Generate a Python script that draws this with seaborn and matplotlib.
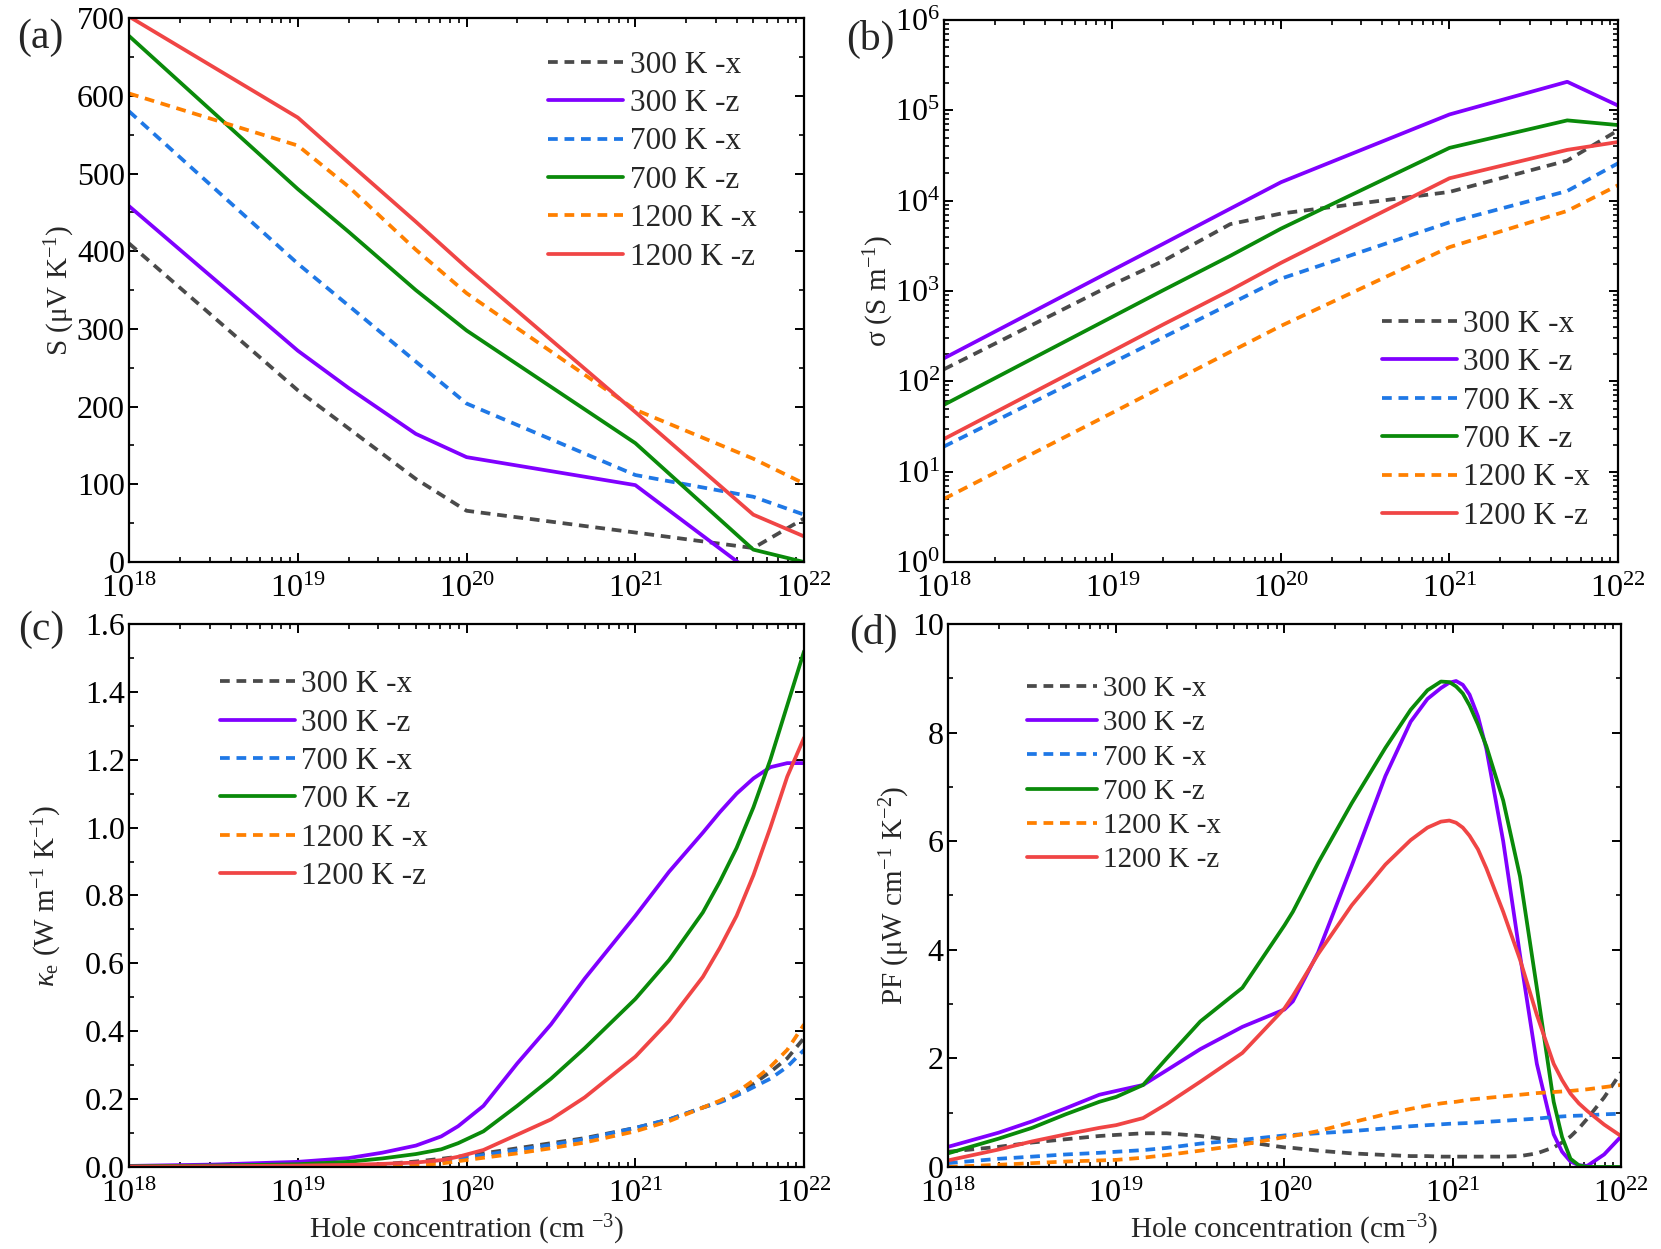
import numpy as np
import pandas as pd
import seaborn as sns
import matplotlib.pyplot as plt
from matplotlib.ticker import MultipleLocator, LogLocator, NullFormatter

# ---- data ----
labels = ['300 K -x', '300 K -z', '700 K -x', '700 K -z', '1200 K -x', '1200 K -z']
colors = ['#4a4a4a', '#8000ff', '#1f78e6', '#0a8a0a', '#ff8000', '#f04545']
dashed = [True, False, True, False, True, False]

# (a) Seebeck coefficient, (b) conductivity
conc_ab = [1e18, 1e19, 2e19, 5e19, 1e20, 1e21, 5e21, 1e22]
S_300x = [410, 221, 172, 107, 66, 38, 18, 56]
S_300z = [458, 272, 224, 165, 135, 99, -15, -40]
S_700x = [580, 384, 330, 258, 204, 112, 84, 61]
S_700z = [677, 480, 425, 350, 298, 153, 16, 0]
S_1200x = [603, 536, 483, 402, 346, 196, 133, 101]
S_1200z = [702, 572, 514, 438, 379, 193, 61, 33]

sig_300x = [136, 1180, 2150, 5500, 7200, 12500, 27800, 60000]
sig_300z = [180, 1700, 3330, 8150, 16000, 90000, 207000, 113000]
sig_700x = [19, 161, 307, 720, 1370, 5760, 12800, 25900]
sig_700z = [55, 519, 1020, 2450, 4900, 38400, 77400, 68700]
sig_1200x = [5, 45, 88, 212, 411, 3060, 7700, 14800]
sig_1200z = [23, 216, 426, 1020, 2050, 17700, 36500, 44600]

# (c) electronic thermal conductivity (log10 of concentration)
logc_c = [18, 18.5, 19, 19.3, 19.5, 19.7, 19.85, 19.95, 20.1, 20.3, 20.5, 20.7,
          21, 21.2, 21.4, 21.5, 21.6, 21.7, 21.8, 21.9, 22]
ke_300x = [0, 0, 0.001, 0.003, 0.008, 0.016, 0.024, 0.03, 0.04, 0.055, 0.07, 0.085,
           0.115, 0.14, 0.175, 0.193, 0.215, 0.245, 0.28, 0.32, 0.38]
ke_300z = [0.003, 0.007, 0.015, 0.026, 0.042, 0.063, 0.09, 0.12, 0.18, 0.305, 0.42, 0.555,
           0.74, 0.87, 0.985, 1.045, 1.10, 1.145, 1.178, 1.19, 1.19]
ke_700x = [0, 0, 0.001, 0.002, 0.006, 0.012, 0.018, 0.024, 0.035, 0.05, 0.065, 0.082,
           0.115, 0.14, 0.175, 0.19, 0.21, 0.235, 0.26, 0.295, 0.345]
ke_700z = [0.002, 0.004, 0.008, 0.015, 0.025, 0.038, 0.052, 0.07, 0.105, 0.18, 0.26, 0.35,
           0.495, 0.61, 0.75, 0.84, 0.94, 1.06, 1.2, 1.36, 1.52]
ke_1200x = [0, 0, 0, 0.001, 0.002, 0.005, 0.01, 0.017, 0.027, 0.04, 0.055, 0.072,
            0.105, 0.135, 0.175, 0.195, 0.22, 0.255, 0.295, 0.345, 0.42]
ke_1200z = [0.001, 0.002, 0.004, 0.006, 0.009, 0.013, 0.02, 0.03, 0.05, 0.095, 0.14, 0.205,
            0.325, 0.43, 0.56, 0.645, 0.74, 0.86, 1.0, 1.15, 1.265]

# (d) power factor (log10 of concentration)
logc_d = [18, 18.3, 18.5, 18.7, 18.9, 19, 19.16, 19.3, 19.5, 19.75, 20, 20.05, 20.2, 20.4,
          20.6, 20.75, 20.85, 20.93, 20.98, 21.02, 21.06, 21.1, 21.15, 21.2, 21.3, 21.4,
          21.5, 21.6, 21.65, 21.7, 21.75, 21.8, 21.9, 22]
pf_300x = [0.28, 0.37, 0.45, 0.51, 0.57, 0.59, 0.62, 0.62, 0.57, 0.47, 0.36, 0.35, 0.3, 0.25,
           0.22, 0.2, 0.2, 0.19, 0.19, 0.19, 0.19, 0.19, 0.19, 0.19, 0.19, 0.2,
           0.25, 0.36, 0.45, 0.56, 0.71, 0.89, 1.28, 1.74]
pf_300z = [0.37, 0.63, 0.84, 1.08, 1.33, 1.40, 1.51, 1.78, 2.17, 2.58, 2.9, 3.05, 3.95, 5.55,
           7.2, 8.2, 8.62, 8.82, 8.92, 8.95, 8.88, 8.7, 8.3, 7.7, 6.0, 3.9,
           1.9, 0.6, 0.28, 0.1, 0.03, 0.02, 0.23, 0.56]
pf_700x = [0.07, 0.15, 0.19, 0.23, 0.26, 0.28, 0.31, 0.35, 0.43, 0.5, 0.58, 0.59, 0.62, 0.66,
           0.71, 0.75, 0.77, 0.785, 0.795, 0.8, 0.805, 0.81, 0.82, 0.83, 0.85, 0.87,
           0.89, 0.92, 0.93, 0.94, 0.945, 0.95, 0.97, 0.98]
pf_700z = [0.25, 0.52, 0.72, 0.97, 1.2, 1.29, 1.51, 2.0, 2.68, 3.3, 4.45, 4.7, 5.6, 6.7,
           7.72, 8.42, 8.78, 8.94, 8.93, 8.85, 8.72, 8.5, 8.15, 7.75, 6.75, 5.35,
           3.3, 1.2, 0.55, 0.15, 0.03, 0.0, 0.0, 0.0]
pf_1200x = [0.0, 0.04, 0.07, 0.1, 0.12, 0.13, 0.17, 0.22, 0.3, 0.41, 0.55, 0.57, 0.66, 0.82,
            0.97, 1.07, 1.13, 1.17, 1.19, 1.2, 1.22, 1.24, 1.255, 1.27, 1.3, 1.33,
            1.36, 1.38, 1.39, 1.4, 1.415, 1.43, 1.47, 1.51]
pf_1200z = [0.12, 0.32, 0.47, 0.6, 0.72, 0.77, 0.9, 1.16, 1.57, 2.1, 2.92, 3.15, 3.92, 4.82,
            5.57, 6.02, 6.25, 6.36, 6.38, 6.34, 6.25, 6.1, 5.85, 5.5, 4.7, 3.82,
            2.8, 1.9, 1.6, 1.35, 1.17, 1.03, 0.78, 0.57]

sns.set_theme(style='ticks')
plt.rcParams['font.family'] = ['Liberation Serif', 'DejaVu Serif']
plt.rcParams['mathtext.fontset'] = 'custom'
plt.rcParams['mathtext.rm'] = 'Liberation Serif'
plt.rcParams['mathtext.it'] = 'Liberation Serif:italic'
plt.rcParams['axes.linewidth'] = 1.6

fig = plt.figure(figsize=(16.61, 12.49), dpi=100)
ax_a = fig.add_axes([0.0777, 0.5500, 0.4064, 0.4355])
ax_b = fig.add_axes([0.5683, 0.5500, 0.4058, 0.4340])
ax_c = fig.add_axes([0.0777, 0.0657, 0.4064, 0.4347])
ax_d = fig.add_axes([0.5707, 0.0657, 0.4052, 0.4347])


def draw(ax, x, series):
    for ys, lab, col, dsh in zip(series, labels, colors, dashed):
        ls = (0, (2.6, 1.8)) if dsh else '-'
        sns.lineplot(x=x, y=ys, ax=ax, color=col, lw=2.7, linestyle=ls,
                     label=lab, sort=False, estimator=None)


draw(ax_a, conc_ab, [S_300x, S_300z, S_700x, S_700z, S_1200x, S_1200z])
draw(ax_b, conc_ab, [sig_300x, sig_300z, sig_700x, sig_700z, sig_1200x, sig_1200z])
x_c = [10 ** v for v in logc_c]
x_d = [10 ** v for v in logc_d]
draw(ax_c, x_c, [ke_300x, ke_300z, ke_700x, ke_700z, ke_1200x, ke_1200z])
draw(ax_d, x_d, [pf_300x, pf_300z, pf_700x, pf_700z, pf_1200x, pf_1200z])

for ax in [ax_a, ax_b, ax_c, ax_d]:
    ax.set_xscale('log')
    ax.set_xlim(1e18, 1e22)
    ax.xaxis.set_major_locator(LogLocator(base=10, numticks=10))
    ax.xaxis.set_minor_locator(LogLocator(base=10, subs=np.arange(2, 10), numticks=20))
    ax.xaxis.set_minor_formatter(NullFormatter())
    ax.tick_params(which='both', direction='in', top=True, right=True,
                   labelsize=23, colors='black')
    ax.tick_params(axis='x', which='both', pad=9)
    ax.tick_params(axis='y', which='both', pad=3)
    ax.tick_params(which='major', length=6.5, width=1.4)
    ax.tick_params(which='minor', length=3.5, width=1.2)
    for sp in ax.spines.values():
        sp.set_color('black')

ax_a.set_ylim(0, 700)
ax_a.yaxis.set_major_locator(MultipleLocator(100))
ax_a.yaxis.set_minor_locator(MultipleLocator(50))

ax_b.set_yscale('log')
ax_b.set_ylim(1, 1e6)
ax_b.yaxis.set_major_locator(LogLocator(base=10, numticks=10))
ax_b.yaxis.set_minor_locator(LogLocator(base=10, subs=np.arange(2, 10), numticks=20))
ax_b.yaxis.set_minor_formatter(NullFormatter())

ax_c.set_ylim(0, 1.6)
ax_c.yaxis.set_major_locator(MultipleLocator(0.2))
ax_c.yaxis.set_minor_locator(MultipleLocator(0.1))
ax_c.yaxis.set_major_formatter(plt.FuncFormatter(lambda v, p: f'{v:.1f}'))

ax_d.set_ylim(0, 10)
ax_d.yaxis.set_major_locator(MultipleLocator(2))
ax_d.yaxis.set_minor_locator(MultipleLocator(1))

ax_a.set_ylabel(r'S (μV K$^{-1}$)', fontsize=21)
ax_b.set_ylabel(r'σ (S m$^{-1}$)', fontsize=21)
ax_c.set_ylabel(r'$\kappa_\mathrm{e}$ (W m$^{-1}$ K$^{-1}$)', fontsize=21)
ax_d.set_ylabel(r'PF (μW cm$^{-1}$ K$^{-2}$)', fontsize=21)
ax_a.yaxis.set_label_coords(-0.077, 0.5)
ax_b.yaxis.set_label_coords(-0.071, 0.5)
ax_c.yaxis.set_label_coords(-0.097, 0.5)
ax_d.yaxis.set_label_coords(-0.053, 0.5)
for ax in [ax_a, ax_b]:
    ax.set_xlabel('')
ax_c.set_xlabel(r'Hole concentration (cm $^{-3}$)', fontsize=21, labelpad=3)
ax_d.set_xlabel(r'Hole concentration (cm$^{-3}$)', fontsize=21, labelpad=3)

leg_kw = dict(frameon=False, fontsize=22.5, handlelength=2.4, handletextpad=0.2,
              labelspacing=0.3, borderpad=0, borderaxespad=0, loc='upper left')
ax_a.legend(bbox_to_anchor=(0.621, 0.94), **leg_kw)
ax_b.legend(bbox_to_anchor=(0.65, 0.465), **leg_kw)
ax_c.legend(bbox_to_anchor=(0.135, 0.915), **leg_kw)
leg_kw.update(fontsize=21, labelspacing=0.27)
ax_d.legend(bbox_to_anchor=(0.118, 0.905), **leg_kw)

for txt, x, y in [('(a)', 0.024, 0.970), ('(b)', 0.524, 0.968),
                  ('(c)', 0.0247, 0.4956), ('(d)', 0.5256, 0.493)]:
    fig.text(x, y, txt, fontsize=30, ha='center', va='center')

fig.savefig('out.png', dpi=100)
